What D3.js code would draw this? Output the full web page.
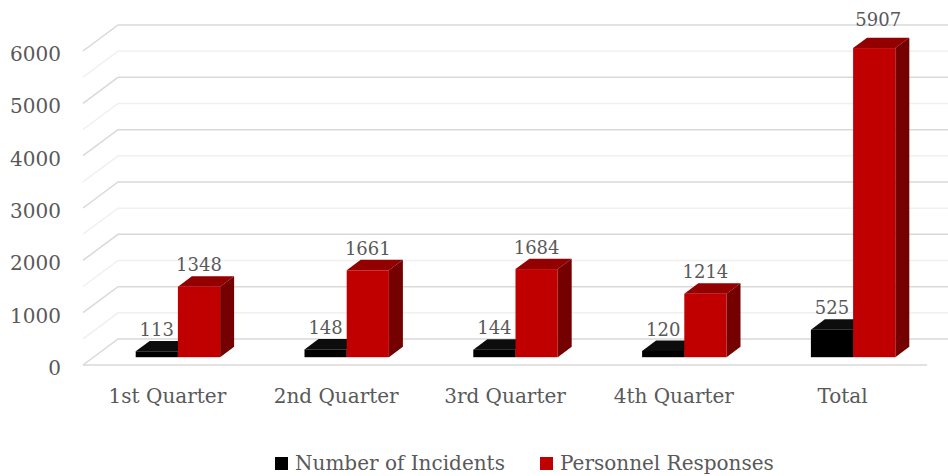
<!DOCTYPE html>
<html>
<head>
<meta charset="utf-8">
<script src="https://cdn.jsdelivr.net/npm/d3@7"></script>
<style>
  body { margin: 0; background: #fff; }
  svg text { font-family: "DejaVu Serif", serif; fill: #595959; }
</style>
</head>
<body>
<svg id="chart"></svg>
<script>
const categories = ['1st Quarter', '2nd Quarter', '3rd Quarter', '4th Quarter', 'Total']
const seriesNames = ['Number of Incidents', 'Personnel Responses']
const incidents = [113, 148, 144, 120, 525]
const responses = [1348, 1661, 1684, 1214, 5907]
const yTicks = [0, 1000, 2000, 3000, 4000, 5000, 6000]
const gridValues = d3.range(0, 6001, 500)

const size = { width: 948, height: 476 }
const colors = [
  { front: '#000000', top: '#0d0d0d', side: '#000000' },
  { front: '#c00000', top: '#930000', side: '#740000' }
]

// oblique projection: floor depth goes up and to the right
const depth = { dx: 35, dy: -26 }
const zFront = 0.3
const zBack = 0.7
const floorY = 365
const left = 83
const right = 927

const svg = d3.select('#chart')
  .attr('width', size.width)
  .attr('height', size.height)

const x = d3.scaleBand()
  .domain(categories)
  .range([left, right])
  .paddingInner(0.5)
  .paddingOuter(0.25)
const xs = d3.scaleBand()
  .domain(seriesNames)
  .range([0, x.bandwidth()])
const h = d3.scaleLinear().domain([0, 6000]).range([0, 314])

// screen position of (x at front, value, depth z)
const px = (xv, z) => xv + z * depth.dx
const py = (v, z) => floorY + z * depth.dy - h(v)

// walls and gridlines
const grid = svg.append('g').attr('class', 'grid')
grid.selectAll('.gridline')
  .data(gridValues)
  .enter()
  .append('polyline')
  .attr('class', 'gridline')
  .attr('fill', 'none')
  .attr('stroke', d => (d % 1000 === 0 ? '#d9d9d9' : '#f0f0f0'))
  .attr('stroke-width', 1.5)
  .attr('points', d => [
    [px(left, 0), py(d, 0)],
    [px(left, 1), py(d, 1)],
    [px(right, 1) + 10, py(d, 1)]
  ].join(' '))

// floor front edge
grid.append('line')
  .attr('x1', left).attr('x2', right)
  .attr('y1', floorY).attr('y2', floorY)
  .attr('stroke', '#d9d9d9')
  .attr('stroke-width', 1.5)

// y tick labels
svg.append('g')
  .selectAll('text')
  .data(yTicks)
  .enter()
  .append('text')
  .attr('x', 61)
  .attr('y', d => py(d, 0) + 10)
  .attr('text-anchor', 'end')
  .attr('font-size', 20)
  .text(d => d)

// bars
const rows = categories.map((c, i) => [
  { cat: c, series: seriesNames[0], value: incidents[i], col: colors[0] },
  { cat: c, series: seriesNames[1], value: responses[i], col: colors[1] }
])

const bars = svg.append('g').attr('class', 'bars')
rows.flat().forEach(d => {
  const x0 = x(d.cat) + xs(d.series)
  const x1 = x0 + xs.bandwidth()
  const g = bars.append('g')
  // top face
  g.append('polygon')
    .attr('fill', d.col.top)
    .attr('points', [
      [px(x0, zFront), py(d.value, zFront)],
      [px(x0, zBack), py(d.value, zBack)],
      [px(x1, zBack), py(d.value, zBack)],
      [px(x1, zFront), py(d.value, zFront)]
    ].join(' '))
  // right side face
  g.append('polygon')
    .attr('fill', d.col.side)
    .attr('points', [
      [px(x1, zFront), py(d.value, zFront)],
      [px(x1, zBack), py(d.value, zBack)],
      [px(x1, zBack), py(0, zBack)],
      [px(x1, zFront), py(0, zFront)]
    ].join(' '))
  // front face
  g.append('rect')
    .attr('fill', d.col.front)
    .attr('x', px(x0, zFront))
    .attr('y', py(d.value, zFront))
    .attr('width', x1 - x0)
    .attr('height', h(d.value))
})

// value labels (the tallest one sits a little higher, like the original)
svg.append('g')
  .selectAll('text')
  .data(rows.flat())
  .enter()
  .append('text')
  .attr('x', d => px(x(d.cat) + xs(d.series) + xs.bandwidth() / 2, zFront) + (d.value > 5000 ? 4 : 0))
  .attr('y', d => py(d.value, zBack) - (d.value > 5000 ? 12 : 5))
  .attr('text-anchor', 'middle')
  .attr('font-size', 18)
  .text(d => d.value)

// category labels
svg.append('g')
  .selectAll('text')
  .data(categories)
  .enter()
  .append('text')
  .attr('x', d => x(d) + x.bandwidth() / 2)
  .attr('y', 403)
  .attr('text-anchor', 'middle')
  .attr('font-size', 20)
  .text(d => d)

// legend
const legend = svg.append('g').attr('class', 'legend')
const legendX = [275, 540]
seriesNames.forEach((name, i) => {
  legend.append('rect')
    .attr('x', legendX[i]).attr('y', 457)
    .attr('width', 13).attr('height', 13)
    .attr('fill', colors[i].front)
  legend.append('text')
    .attr('x', legendX[i] + 20)
    .attr('y', 470)
    .attr('font-size', 20)
    .text(name)
})
</script>
</body>
</html>
